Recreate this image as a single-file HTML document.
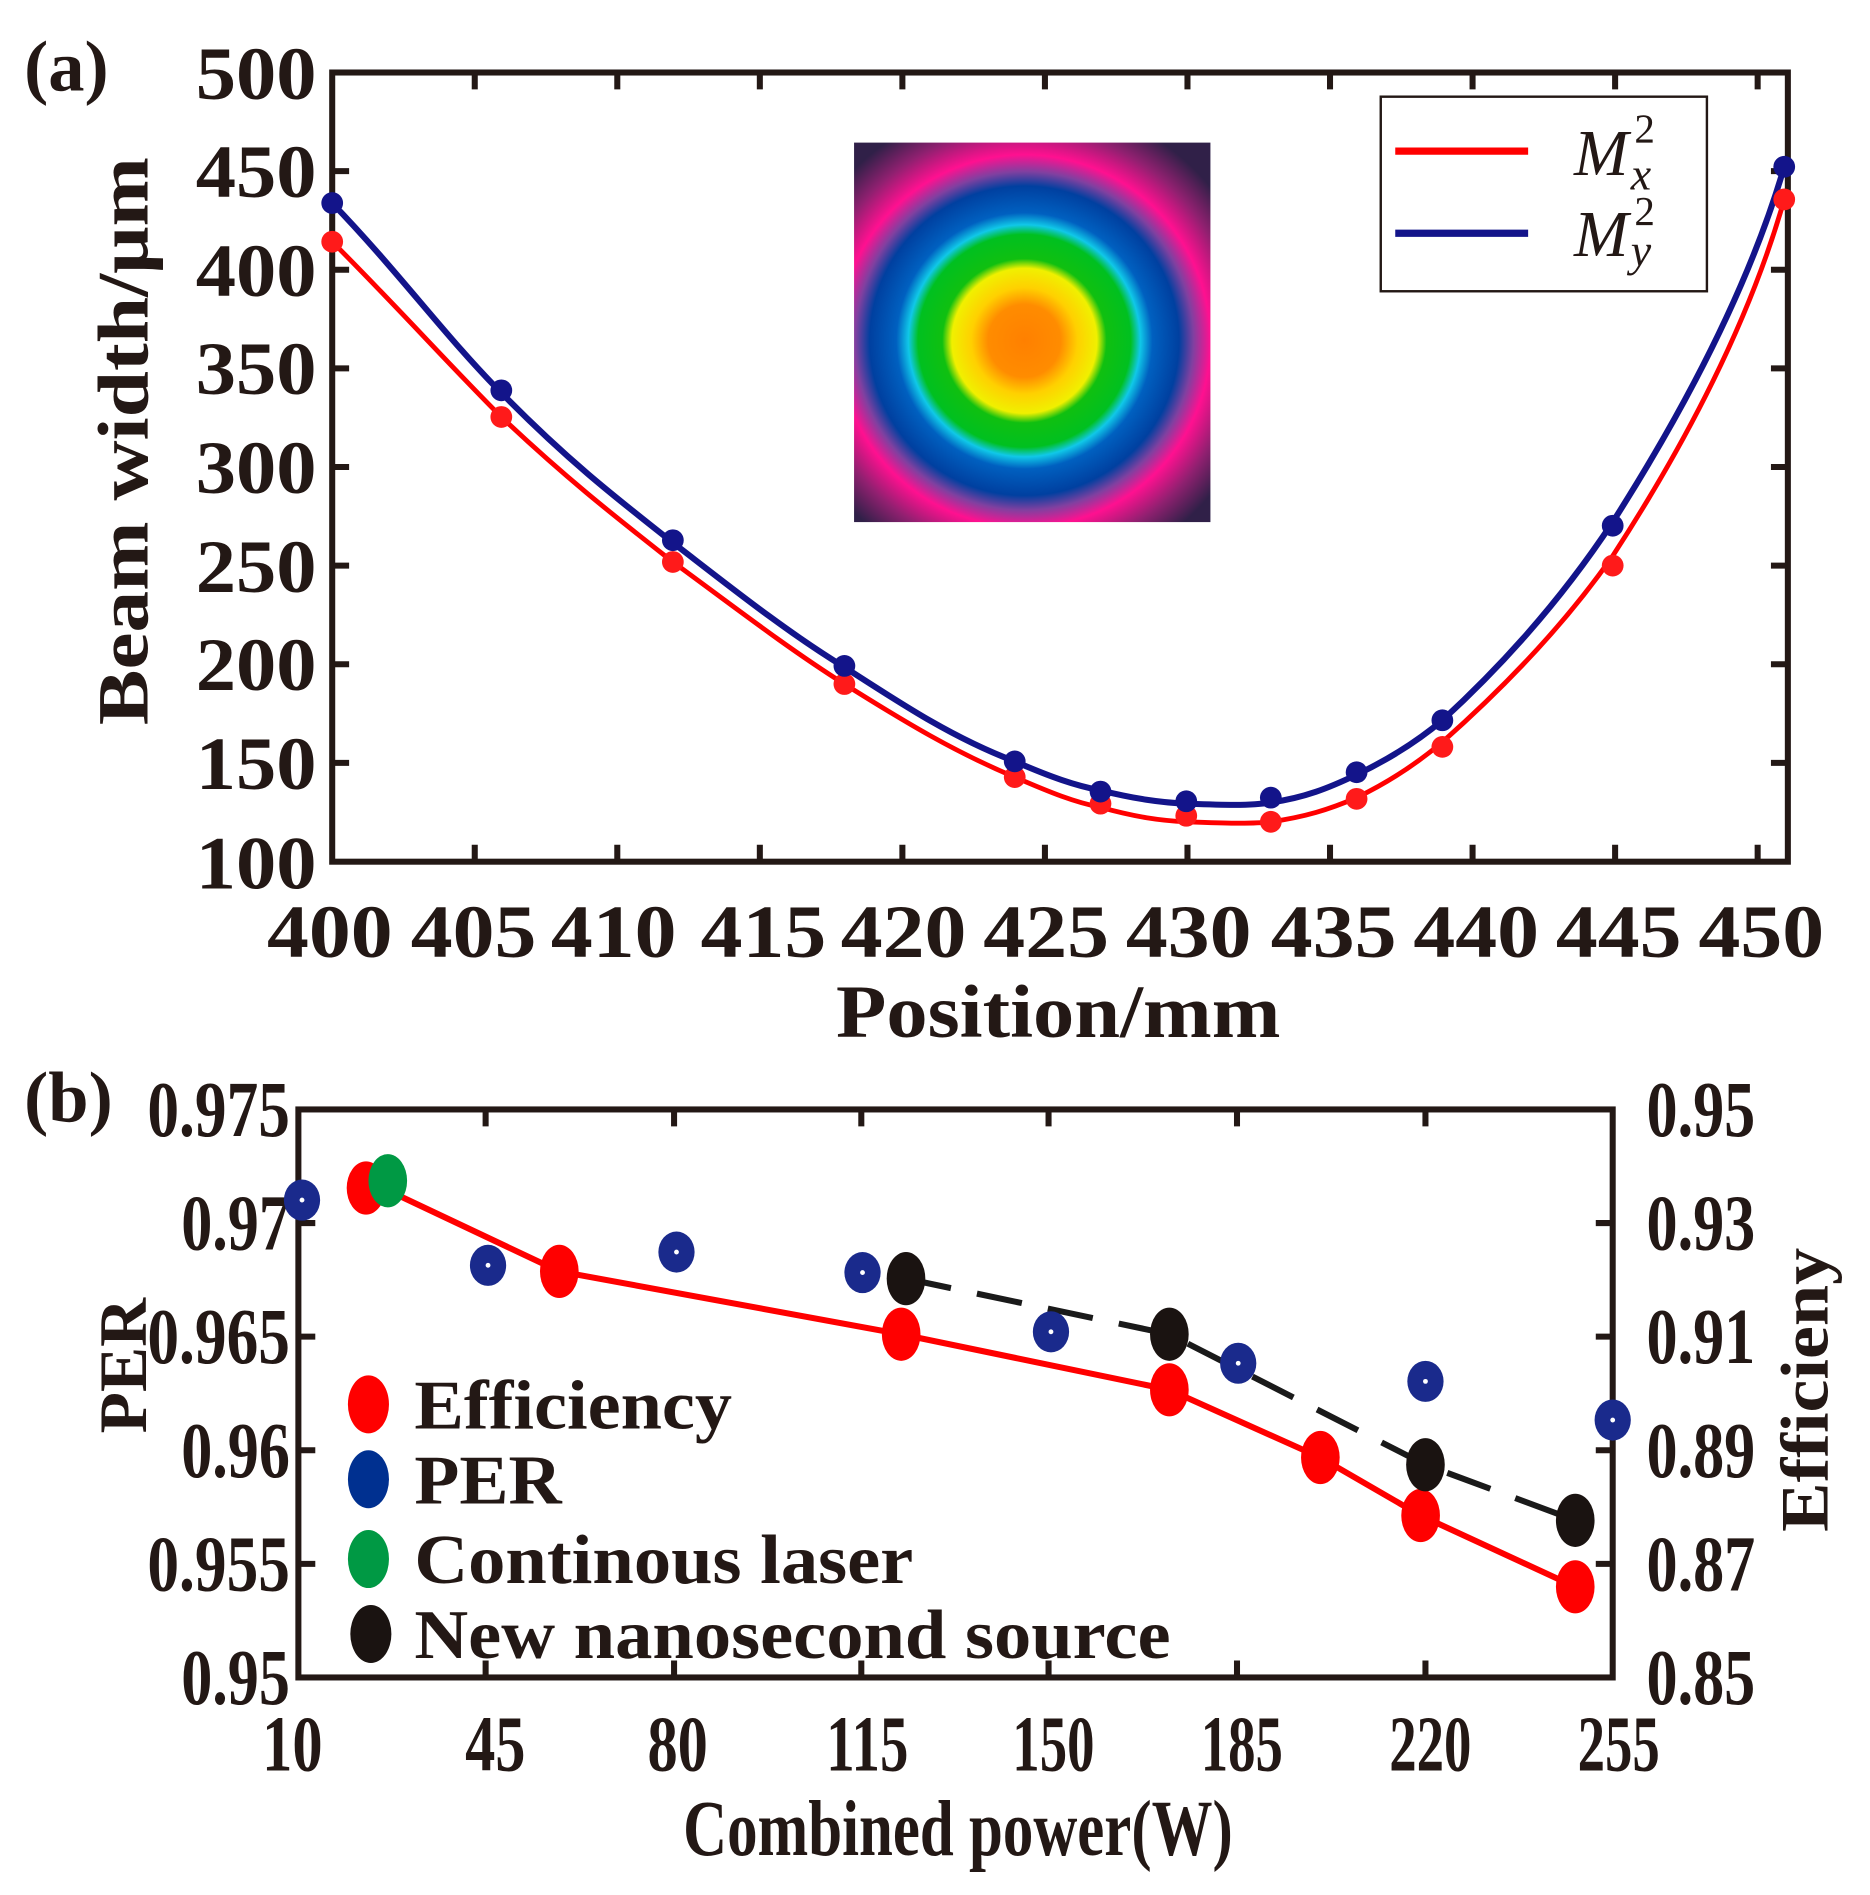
<!DOCTYPE html>
<html><head><meta charset="utf-8">
<style>
html,body{margin:0;padding:0;background:#fff;}
svg{display:block;}
text{font-family:"Liberation Serif",serif;font-weight:bold;fill:#231815;}
</style></head>
<body>
<svg width="1870" height="1895" viewBox="0 0 1548 1568" preserveAspectRatio="none" xmlns="http://www.w3.org/2000/svg">
<defs>
<radialGradient id="beam" cx="848" cy="282" r="200" gradientUnits="userSpaceOnUse">
<stop offset="0" stop-color="#ff8000"/>
<stop offset="0.15" stop-color="#ff8c00"/>
<stop offset="0.22" stop-color="#ffd000"/>
<stop offset="0.30" stop-color="#f0f000"/>
<stop offset="0.34" stop-color="#10c010"/>
<stop offset="0.44" stop-color="#00c020"/>
<stop offset="0.48" stop-color="#10c8e8"/>
<stop offset="0.53" stop-color="#0060c0"/>
<stop offset="0.64" stop-color="#0040a0"/>
<stop offset="0.70" stop-color="#8040a0"/>
<stop offset="0.77" stop-color="#ff1090"/>
<stop offset="0.88" stop-color="#902070"/>
<stop offset="1" stop-color="#302048"/>
</radialGradient>
</defs>

<!-- Panel (a) -->
<text x="20" y="75" font-size="60">(a)</text>
<rect x="707" y="118" width="295" height="314" fill="url(#beam)"/>

<g stroke="#231815" stroke-width="5" fill="none">
<rect x="275" y="60" width="1205" height="653"/>
</g>
<g stroke="#231815" stroke-width="5">
<path d="M393 713v-14M511 713v-14M629 713v-14M747 713v-14M865 713v-14M983 713v-14M1101 713v-14M1219 713v-14M1337 713v-14M1455 713v-14
M393 60v14M511 60v14M629 60v14M747 60v14M865 60v14M983 60v14M1101 60v14M1219 60v14M1337 60v14M1455 60v14
M275 141.6h14M275 223.2h14M275 304.8h14M275 386.4h14M275 468h14M275 549.6h14M275 631.2h14
M1480 141.6h-14M1480 223.2h-14M1480 304.8h-14M1480 386.4h-14M1480 468h-14M1480 549.6h-14M1480 631.2h-14"/>
</g>
<g font-size="62" text-anchor="end">
<text x="262" y="82" textLength="100" lengthAdjust="spacingAndGlyphs">500</text>
<text x="262" y="163" textLength="100" lengthAdjust="spacingAndGlyphs">450</text>
<text x="262" y="245" textLength="100" lengthAdjust="spacingAndGlyphs">400</text>
<text x="262" y="326" textLength="100" lengthAdjust="spacingAndGlyphs">350</text>
<text x="262" y="408" textLength="100" lengthAdjust="spacingAndGlyphs">300</text>
<text x="262" y="490" textLength="100" lengthAdjust="spacingAndGlyphs">250</text>
<text x="262" y="571" textLength="100" lengthAdjust="spacingAndGlyphs">200</text>
<text x="262" y="653" textLength="100" lengthAdjust="spacingAndGlyphs">150</text>
<text x="262" y="735" textLength="100" lengthAdjust="spacingAndGlyphs">100</text>
</g>
<g font-size="62" text-anchor="middle">
<text x="273" y="792" textLength="104" lengthAdjust="spacingAndGlyphs">400</text>
<text x="392" y="792" textLength="104" lengthAdjust="spacingAndGlyphs">405</text>
<text x="508" y="792" textLength="104" lengthAdjust="spacingAndGlyphs">410</text>
<text x="632" y="792" textLength="104" lengthAdjust="spacingAndGlyphs">415</text>
<text x="748" y="792" textLength="104" lengthAdjust="spacingAndGlyphs">420</text>
<text x="866" y="792" textLength="104" lengthAdjust="spacingAndGlyphs">425</text>
<text x="984" y="792" textLength="104" lengthAdjust="spacingAndGlyphs">430</text>
<text x="1104" y="792" textLength="104" lengthAdjust="spacingAndGlyphs">435</text>
<text x="1222" y="792" textLength="104" lengthAdjust="spacingAndGlyphs">440</text>
<text x="1340" y="792" textLength="104" lengthAdjust="spacingAndGlyphs">445</text>
<text x="1458" y="792" textLength="104" lengthAdjust="spacingAndGlyphs">450</text>
</g>
<text x="876" y="858" font-size="62" text-anchor="middle" textLength="368" lengthAdjust="spacingAndGlyphs">Position/mm</text>
<text transform="translate(122,365) rotate(-90)" font-size="60" text-anchor="middle" textLength="470" lengthAdjust="spacingAndGlyphs">Beam width/μm</text>

<path d="M275,200 C330,255 370,300 415,345 C470,397 510,428 557,465 C605,500 650,535 699,566 C750,598 790,622 840,643 C870,656 890,664 911,668 C940,676 960,679 982,680 C1010,681 1035,682 1052,680 C1080,676 1100,670 1123,660 C1150,647 1175,630 1194,614 C1255,560 1300,510 1335,460 C1400,360 1450,260 1477,165" stroke="#ff0000" stroke-width="4" fill="none"/>
<path d="M275,168 C330,225 370,280 415,325 C470,381 510,412 557,449 C605,486 650,522 699,552 C750,585 790,611 840,630 C870,643 890,650 911,654 C940,661 960,664 982,665 C1010,666 1035,667 1052,664 C1080,660 1100,652 1123,641 C1150,628 1175,612 1194,596 C1255,540 1300,485 1335,432 C1400,330 1450,230 1477,138" stroke="#13148a" stroke-width="5" fill="none"/>
<g fill="#ff1a1a">
<ellipse cx="275" cy="200" rx="9" ry="9"/><ellipse cx="415" cy="345" rx="9" ry="9"/><ellipse cx="557" cy="465" rx="9" ry="9"/><ellipse cx="699" cy="566" rx="9" ry="9"/><ellipse cx="840" cy="643" rx="9" ry="9"/><ellipse cx="911" cy="665" rx="9" ry="9"/><ellipse cx="982" cy="675" rx="9" ry="9"/><ellipse cx="1052" cy="680" rx="9" ry="9"/><ellipse cx="1123" cy="661" rx="9" ry="9"/><ellipse cx="1194" cy="618" rx="9" ry="9"/><ellipse cx="1335" cy="468" rx="9" ry="9"/><ellipse cx="1477" cy="165" rx="9" ry="9"/>
</g>
<g fill="#13148a">
<ellipse cx="275" cy="168" rx="9" ry="9"/><ellipse cx="415" cy="323" rx="9" ry="9"/><ellipse cx="557" cy="447" rx="9" ry="9"/><ellipse cx="699" cy="551" rx="9" ry="9"/><ellipse cx="840" cy="630" rx="9" ry="9"/><ellipse cx="911" cy="655" rx="9" ry="9"/><ellipse cx="982" cy="663" rx="9" ry="9"/><ellipse cx="1052" cy="660" rx="9" ry="9"/><ellipse cx="1123" cy="639" rx="9" ry="9"/><ellipse cx="1194" cy="596" rx="9" ry="9"/><ellipse cx="1335" cy="435" rx="9" ry="9"/><ellipse cx="1477" cy="138" rx="9" ry="9"/>
</g>
<rect x="1143" y="80" width="270" height="161" fill="#fff" stroke="#231815" stroke-width="2"/>
<line x1="1155" y1="125" x2="1265" y2="125" stroke="#ff0000" stroke-width="6"/>
<line x1="1155" y1="193" x2="1265" y2="193" stroke="#13148a" stroke-width="6"/>
<text x="1303" y="145" font-size="54" style="font-style:italic;font-weight:normal">M</text>
<text x="1353" y="118" font-size="34" style="font-weight:normal">2</text>
<text x="1350" y="157" font-size="38" style="font-style:italic;font-weight:normal">x</text>
<text x="1303" y="212" font-size="54" style="font-style:italic;font-weight:normal">M</text>
<text x="1353" y="186" font-size="34" style="font-weight:normal">2</text>
<text x="1350" y="220" font-size="38" style="font-style:italic;font-weight:normal">y</text>

<!-- Panel (b) -->
<text x="20" y="928" font-size="60">(b)</text>
<rect x="247" y="918" width="1088" height="470" fill="none" stroke="#231815" stroke-width="5"/>
<g stroke="#231815" stroke-width="5">
<path d="M402 918v14M558 918v14M713 918v14M868 918v14M1024 918v14M1180 918v14
M402 1388v-14M558 1388v-14M713 1388v-14M868 1388v-14M1024 1388v-14M1180 1388v-14
M247 1012h14M247 1106h14M247 1200h14M247 1294h14
M1335 1012h-14M1335 1106h-14M1335 1200h-14M1335 1294h-14"/>
</g>
<g font-size="66" text-anchor="end">
<text x="240" y="940" textLength="118" lengthAdjust="spacingAndGlyphs">0.975</text>
<text x="240" y="1034" textLength="90" lengthAdjust="spacingAndGlyphs">0.97</text>
<text x="240" y="1128" textLength="118" lengthAdjust="spacingAndGlyphs">0.965</text>
<text x="240" y="1222" textLength="90" lengthAdjust="spacingAndGlyphs">0.96</text>
<text x="240" y="1316" textLength="118" lengthAdjust="spacingAndGlyphs">0.955</text>
<text x="240" y="1410" textLength="90" lengthAdjust="spacingAndGlyphs">0.95</text>
</g>
<g font-size="66">
<text x="1363" y="940" textLength="90" lengthAdjust="spacingAndGlyphs">0.95</text>
<text x="1363" y="1034" textLength="90" lengthAdjust="spacingAndGlyphs">0.93</text>
<text x="1363" y="1128" textLength="90" lengthAdjust="spacingAndGlyphs">0.91</text>
<text x="1363" y="1222" textLength="90" lengthAdjust="spacingAndGlyphs">0.89</text>
<text x="1363" y="1316" textLength="90" lengthAdjust="spacingAndGlyphs">0.87</text>
<text x="1363" y="1410" textLength="90" lengthAdjust="spacingAndGlyphs">0.85</text>
</g>
<g font-size="66" text-anchor="middle">
<text x="242" y="1465" textLength="50" lengthAdjust="spacingAndGlyphs">10</text>
<text x="410" y="1465" textLength="50" lengthAdjust="spacingAndGlyphs">45</text>
<text x="561" y="1465" textLength="50" lengthAdjust="spacingAndGlyphs">80</text>
<text x="718" y="1465" textLength="68" lengthAdjust="spacingAndGlyphs">115</text>
<text x="872" y="1465" textLength="68" lengthAdjust="spacingAndGlyphs">150</text>
<text x="1028" y="1465" textLength="68" lengthAdjust="spacingAndGlyphs">185</text>
<text x="1184" y="1465" textLength="68" lengthAdjust="spacingAndGlyphs">220</text>
<text x="1340" y="1465" textLength="68" lengthAdjust="spacingAndGlyphs">255</text>
</g>
<text x="793" y="1535" font-size="66" text-anchor="middle" textLength="455" lengthAdjust="spacingAndGlyphs">Combined power(W)</text>
<text transform="translate(121,1130) rotate(-90)" font-size="56" text-anchor="middle" textLength="112" lengthAdjust="spacingAndGlyphs">PER</text>
<text transform="translate(1513,1150) rotate(-90)" font-size="56" text-anchor="middle" textLength="235" lengthAdjust="spacingAndGlyphs">Efficieny</text>

<polyline points="321,985 463,1052 746,1104 968,1150 1093,1206 1176,1254 1304,1313" fill="none" stroke="#ff0000" stroke-width="5"/>
<polyline points="750,1058 968,1104 1180,1212 1304,1258" fill="none" stroke="#1a1a1a" stroke-width="5" stroke-dasharray="38,22"/>
<g fill="#ff0000">
<ellipse cx="303" cy="983" rx="16" ry="22"/><ellipse cx="463" cy="1052" rx="16" ry="22"/><ellipse cx="746" cy="1104" rx="16" ry="22"/><ellipse cx="968" cy="1150" rx="16" ry="22"/><ellipse cx="1093" cy="1206" rx="16" ry="22"/><ellipse cx="1176" cy="1254" rx="16" ry="22"/><ellipse cx="1304" cy="1313" rx="16" ry="22"/>
</g>
<ellipse cx="321" cy="977" rx="16" ry="22" fill="#009944"/>
<g fill="#1a1311">
<ellipse cx="750" cy="1058" rx="16" ry="22"/><ellipse cx="968" cy="1104" rx="16" ry="22"/><ellipse cx="1180" cy="1212" rx="16" ry="22"/><ellipse cx="1304" cy="1258" rx="16" ry="22"/>
</g>
<g fill="#1a2a8c">
<ellipse cx="250" cy="993" rx="15" ry="17"/><ellipse cx="404" cy="1047" rx="15" ry="17"/><ellipse cx="560" cy="1036" rx="15" ry="17"/><ellipse cx="714" cy="1053" rx="15" ry="17"/><ellipse cx="870" cy="1102" rx="15" ry="17"/><ellipse cx="1025" cy="1128" rx="15" ry="17"/><ellipse cx="1180" cy="1143" rx="15" ry="17"/><ellipse cx="1335" cy="1175" rx="15" ry="17"/>
</g>
<g fill="#fff">
<circle cx="250" cy="993" r="2"/><circle cx="404" cy="1047" r="2"/><circle cx="560" cy="1036" r="2"/><circle cx="714" cy="1053" r="2"/><circle cx="870" cy="1102" r="2"/><circle cx="1025" cy="1128" r="2"/><circle cx="1180" cy="1143" r="2"/><circle cx="1335" cy="1175" r="2"/>
</g>
<ellipse cx="305" cy="1162" rx="17" ry="24" fill="#ff0000"/>
<ellipse cx="305" cy="1224" rx="17" ry="24" fill="#003090"/>
<ellipse cx="305" cy="1290" rx="17" ry="24" fill="#009944"/>
<ellipse cx="307" cy="1352" rx="17" ry="24" fill="#1a1311"/>
<g font-size="58">
<text x="343" y="1182" textLength="263" lengthAdjust="spacingAndGlyphs">Efficiency</text>
<text x="343" y="1244" textLength="122" lengthAdjust="spacingAndGlyphs">PER</text>
<text x="343" y="1310" textLength="413" lengthAdjust="spacingAndGlyphs">Continous laser</text>
<text x="343" y="1372" textLength="626" lengthAdjust="spacingAndGlyphs">New nanosecond source</text>
</g>
</svg>
</body></html>
